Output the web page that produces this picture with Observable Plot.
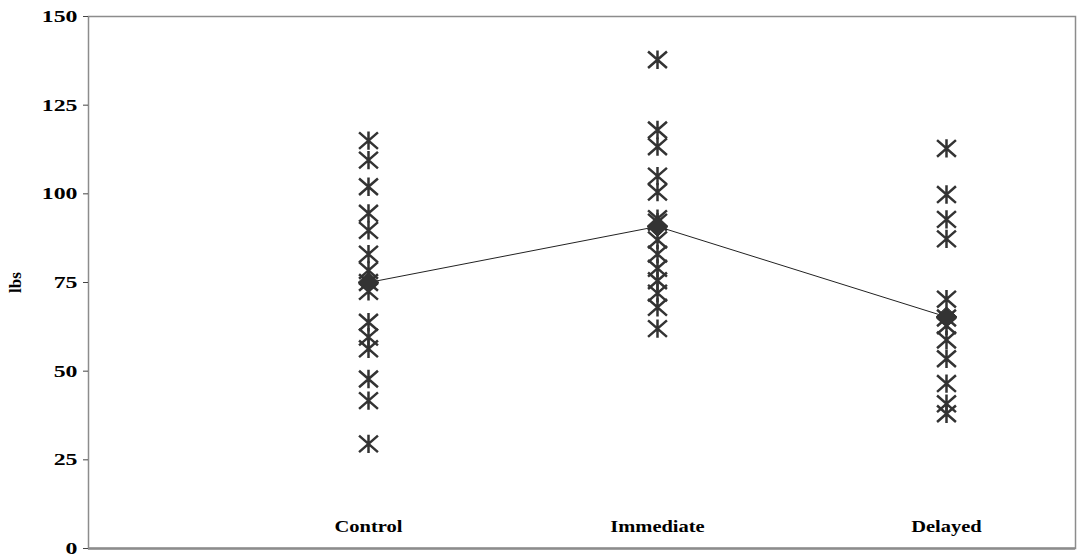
<!DOCTYPE html>
<html>
<head>
<meta charset="utf-8">
<script src="https://cdn.jsdelivr.net/npm/d3@7"></script>
<script src="https://cdn.jsdelivr.net/npm/@observablehq/plot@0.6"></script>
<style>
  html, body { margin: 0; padding: 0; background: #fff; }
  #chart svg { display: block; }
</style>
</head>
<body>
<div id="chart"></div>
<script>
const categories = ["Control", "Immediate", "Delayed"];
const controlValues = [115, 109.5, 102, 94.5, 89.7, 83, 78.4, 75, 72.5, 63.8, 59.6, 56.3, 47.8, 41.7, 29.5];
const immediateValues = [137.8, 118, 113.3, 105, 100.5, 93, 92, 87, 83, 79, 75.5, 72, 68, 62];
const delayedValues = [112.8, 99.8, 92.8, 87.3, 70.3, 65, 62.8, 58.8, 53.5, 46.5, 40.8, 38];
const means = [75, 90.8, 65.3];
const yTicks = [0, 25, 50, 75, 100, 125, 150];

const seriesValues = [controlValues, immediateValues, delayedValues];
const points = categories.flatMap((c, i) => seriesValues[i].map(v => ({category: c, value: v})));
const meanRows = categories.map((c, i) => ({category: c, value: means[i]}));

const starSymbol = {
  draw(context, size) {
    const r = Math.sqrt(size / Math.PI);
    const hx = r * 1.05, hy = r * 0.92;
    context.moveTo(-hx, -hy); context.lineTo(hx, hy);
    context.moveTo(hx, -hy); context.lineTo(-hx, hy);
    context.moveTo(0, -r * 1.02); context.lineTo(0, r * 1.02);
  }
};
const diamondSymbol = {
  draw(context, size) {
    const r = Math.sqrt(size / Math.PI);
    context.moveTo(0, -r); context.lineTo(r * 1.05, 0); context.lineTo(0, r); context.lineTo(-r * 1.05, 0); context.closePath();
  }
};

const font = "'Liberation Serif', 'Times New Roman', serif";

const chart = Plot.plot({
  width: 1080,
  height: 556,
  marginTop: 16,
  marginBottom: 8,
  marginLeft: 88,
  marginRight: 5,
  style: {fontFamily: font, background: "#fff", color: "#000"},
  x: {type: "point", domain: categories, range: [368, 946], padding: 0},
  y: {domain: [0, 150], ticks: yTicks},
  marks: [
    Plot.frame({stroke: "#8c8c8c", strokeWidth: 1.5}),
    Plot.ruleY([0], {stroke: "#8c8c8c", strokeWidth: 2.5}),
    Plot.axisY({ticks: yTicks, tickSize: 5, tickPadding: 6, fontSize: 17, fontWeight: "bold",
      stroke: "#444", label: "lbs", labelAnchor: "center", labelArrow: "none", labelOffset: 80}),
    Plot.ruleX([0], {x: () => 0, frameAnchor: "left", stroke: "#444", strokeWidth: 2}),
    Plot.axisX({tickSize: 0, tickPadding: 0, dy: -28, fontSize: 16, fontWeight: "bold", label: null}),
    Plot.dot(points, {x: "category", y: "value", symbol: starSymbol, r: 9, stroke: "#333", strokeWidth: 2.5, fill: "none"}),
    Plot.line(meanRows, {x: "category", y: "value", stroke: "#222", strokeWidth: 1}),
    Plot.dot(meanRows, {x: "category", y: "value", symbol: diamondSymbol, r: 10, fill: "#333", stroke: "#333", strokeWidth: 1})
  ]
});
document.getElementById("chart").appendChild(chart);

// widen the horizontal labels to match the reference's wide bold serif lettering
function stretch(selector, factor) {
  chart.querySelectorAll(selector).forEach(el => {
    const w = el.getComputedTextLength();
    el.setAttribute("textLength", (w * factor).toFixed(1));
    el.setAttribute("lengthAdjust", "spacingAndGlyphs");
  });
}
stretch('g[aria-label="y-axis tick label"] text', 1.4);
stretch('g[aria-label="x-axis tick label"] text', 1.28);
chart.querySelectorAll('g[aria-label="y-axis label"] text').forEach(el => {
  el.setAttribute("font-size", "17");
});
</script>
</body>
</html>
